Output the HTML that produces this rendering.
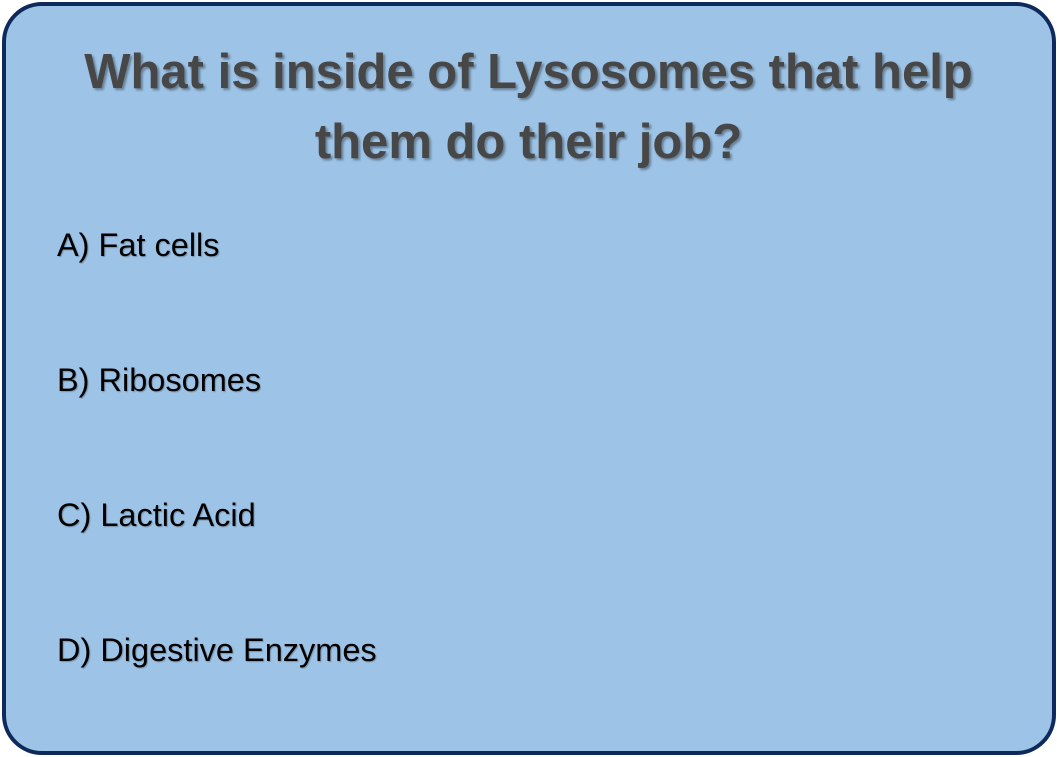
<!DOCTYPE html>
<html><head><meta charset="utf-8"><style>
html,body{margin:0;padding:0;background:#fff;}
body{width:1057px;height:757px;position:relative;overflow:hidden;font-family:"Liberation Sans",sans-serif;}
#card{position:absolute;left:2px;top:2px;width:1046px;height:745px;background:#9DC3E6;border:4px solid #0E2A5C;border-radius:40px;}
#title{position:absolute;left:0;width:1057px;top:37px;text-align:center;font-weight:bold;font-size:49px;line-height:70px;color:#474747;text-shadow:2px 2px 2px rgba(0,0,0,0.35);}
.opt{position:absolute;left:57px;font-size:32.5px;color:#000;text-shadow:1px 1px 1px rgba(0,0,0,0.25);line-height:38px;}
</style></head><body>
<div id="card"></div>
<div id="title">What is inside of Lysosomes that help<br>them do their job?</div>
<div class="opt" style="top:226px">A) Fat cells</div>
<div class="opt" style="top:361px">B) Ribosomes</div>
<div class="opt" style="top:496px">C) Lactic Acid</div>
<div class="opt" style="top:631px">D) Digestive Enzymes</div>
</body></html>
